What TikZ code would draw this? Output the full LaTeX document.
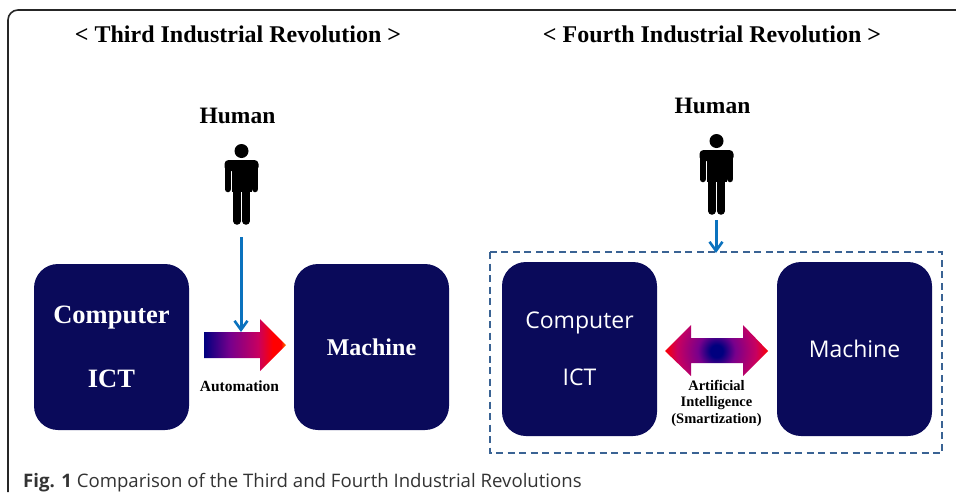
\documentclass[tikz,border=0pt]{standalone}
\usepackage{fontspec}
\setmainfont{Liberation Serif}
\newfontfamily\capfont{Open Sans}
\usetikzlibrary{arrows.meta}
\definecolor{navybox}{HTML}{0A0A5A}
\definecolor{dashblue}{HTML}{3A6394}
\definecolor{linkblue}{HTML}{0B72BE}
\definecolor{gradnavy}{HTML}{00007F}
\definecolor{gradviolet}{HTML}{78008C}
\definecolor{gradcrimson}{HTML}{C80060}
\definecolor{gradred}{HTML}{FF0000}
\definecolor{gradorange}{HTML}{FF8000}
\pgfdeclarehorizontalshading{autoshade}{100bp}{
	color(0bp)=(gradnavy);
	color(25bp)=(gradnavy);
	color(41bp)=(gradviolet);
	color(58bp)=(gradcrimson);
	color(67bp)=(gradred);
	color(72bp)=(gradred);
	color(75bp)=(gradorange);
	color(100bp)=(gradorange)
}
\pgfdeclareradialshading{aishade}{\pgfpoint{0bp}{0bp}}{
	color(0bp)=(gradnavy);
	color(3bp)=(gradnavy);
	color(9bp)=(gradviolet);
	color(19bp)=(gradcrimson);
	color(25bp)=(gradred);
	color(50bp)=(gradred)
}

\begin{document}
\begin{tikzpicture}[x=1pt,y=-1pt,
		box/.style={fill=navybox,rounded corners=24pt,inner sep=0pt,minimum width=155pt,text=white,align=center},
		serifbox/.style={box,font=\bfseries\fontsize{26.5}{26.5}\selectfont},
		sansbox/.style={box,font=\capfont\fontsize{23}{23}\selectfont},
		heading/.style={font=\bfseries\fontsize{24}{26}\selectfont},
		humanlabel/.style={font=\bfseries\fontsize{23.5}{26}\selectfont},
		smalllabel/.style={font=\bfseries\fontsize{14.5}{16.5}\selectfont,align=center},
		humanlink/.style={linkblue,line width=3pt,-{Straight Barb[length=9pt,width=13pt,line width=2.6pt]}},
		person/.pic={
			\fill (0,0) circle (7);
			\fill[rounded corners=4pt] (-17,9) rectangle (17,20);
			\fill (-10,10) rectangle (10,41);
			\draw[line width=6.5pt,line cap=round] (-13.7,14) -- (-13.7,38);
			\draw[line width=6.5pt,line cap=round] (13.7,14) -- (13.7,38);
			\draw[line width=7.5pt,line cap=round] (-4.6,38) -- (-4.6,70);
			\draw[line width=7.5pt,line cap=round] (4.6,38) -- (4.6,70);
		}]
	\useasboundingbox (0,0) rectangle (956,496);
	
	% Outer frame (open at bottom and right)
	\draw[line width=1.6pt,black!85,rounded corners=10pt] (8,492) -- (8,10) -- (956,10);
	
	% Headings
	\node[heading] (titleL) at (238,34) {< Third Industrial Revolution >};
	\node[heading] (titleR) at (712,34) {< Fourth Industrial Revolution >};
	\node[humanlabel] (humanL) at (237.5,116) {Human};
	\node[humanlabel] (humanR) at (712.5,106) {Human};
	
	% Persons
	\pic at (241.5,151) {person};
	\pic at (716.5,141) {person};
	
	% Boxes
	\node[serifbox,minimum height=166pt] (compL) at (111.5,347) {Computer\\[37pt]ICT};
	\node[serifbox,minimum height=166pt,font=\bfseries\fontsize{24}{24}\selectfont] (machL) at (371.5,347) {Machine};
	\node[sansbox,minimum height=174pt] (compR) at (579.5,349) {Computer\\[34pt]ICT};
	\node[sansbox,minimum height=174pt] (machR) at (854.5,349) {Machine};
	
	% Dashed region around the smart system
	\draw[dashblue,line width=2.8pt,dash pattern=on 7pt off 4.5pt] (490,252) rectangle (942,453);
	
	% Automation arrow
	\shade[shading=autoshade] (204,332) -- (260,332) -- (260,319) -- (286,345) -- (260,371) -- (260,358) -- (204,358) -- cycle;
	\node[smalllabel,font=\bfseries\fontsize{15.5}{17}\selectfont] (autolabel) at (239.5,386) {Automation};
	
	% AI double arrow
	\begin{scope}
		\clip (665,351) -- (691,325) -- (691,338) -- (743,338) -- (743,325) -- (768,351) -- (743,376) -- (743,363) -- (691,363) -- (691,376) -- cycle;
		\shade[shading=aishade] (716.5,351) circle (52);
	\end{scope}
	\node[smalllabel] (ailabel) at (716.5,403) {Artificial\\Intelligence\\(Smartization)};
	
	% Links from the humans
	\coordinate (startL) at (241,237);
	\coordinate (endL) at (241,332);
	\coordinate (startR) at (716,220);
	\coordinate (endR) at (716,253);
	\draw[humanlink] (startL) -- (endL);
	\draw[humanlink] (startR) -- (endR);
	
	% Caption
	\node[anchor=base west,inner sep=0pt,text=black!80,font=\capfont\fontsize{18.6}{20}\selectfont] (caption) at (23,487) {\textbf{Fig. 1} Comparison of the Third and Fourth Industrial Revolutions};
\end{tikzpicture}
\end{document}
